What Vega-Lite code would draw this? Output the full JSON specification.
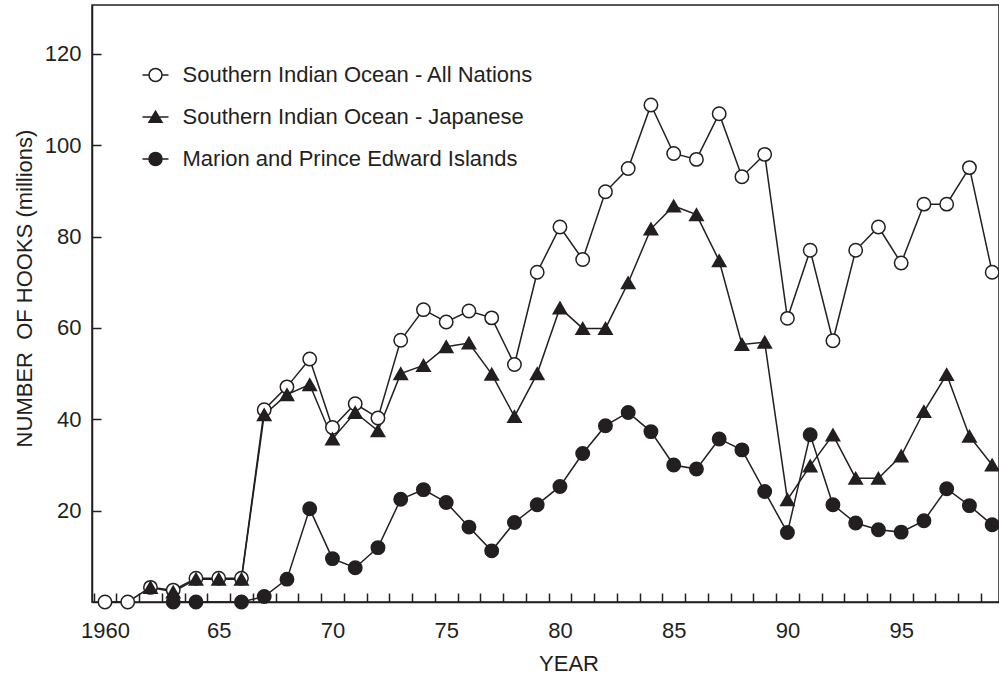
{
  "$schema": "https://vega.github.io/schema/vega-lite/v6.json",
  "width": 907,
  "height": 597,
  "autosize": {"type": "none"},
  "padding": {"left": 92, "top": 5, "right": 0, "bottom": 72},
  "background": "white",
  "config": {
    "view": {"stroke": "#231f20", "strokeWidth": 1.5},
    "font": "Liberation Sans",
    "axis": {
      "labelFont": "Liberation Sans", "labelFontSize": 22, "labelColor": "#231f20",
      "titleFont": "Liberation Sans", "titleFontSize": 22, "titleFontWeight": "normal", "titleColor": "#231f20",
      "tickColor": "#231f20", "tickWidth": 1.5, "domainColor": "#231f20", "domainWidth": 1.5,
      "grid": true, "gridColor": "#231f20", "gridWidth": 1.5, "gridOpacity": 1
    }
  },
  "datasets": {
    "hooks": [
      {"year": 1960, "series": "Southern Indian Ocean - All Nations", "hooks": 0},
      {"year": 1961, "series": "Southern Indian Ocean - All Nations", "hooks": 0},
      {"year": 1962, "series": "Southern Indian Ocean - All Nations", "hooks": 3.2},
      {"year": 1963, "series": "Southern Indian Ocean - All Nations", "hooks": 2.6},
      {"year": 1964, "series": "Southern Indian Ocean - All Nations", "hooks": 5.2},
      {"year": 1965, "series": "Southern Indian Ocean - All Nations", "hooks": 5.2},
      {"year": 1966, "series": "Southern Indian Ocean - All Nations", "hooks": 5.2},
      {"year": 1967, "series": "Southern Indian Ocean - All Nations", "hooks": 42.1},
      {"year": 1968, "series": "Southern Indian Ocean - All Nations", "hooks": 47.1},
      {"year": 1969, "series": "Southern Indian Ocean - All Nations", "hooks": 53.2},
      {"year": 1970, "series": "Southern Indian Ocean - All Nations", "hooks": 38.2},
      {"year": 1971, "series": "Southern Indian Ocean - All Nations", "hooks": 43.4},
      {"year": 1972, "series": "Southern Indian Ocean - All Nations", "hooks": 40.3},
      {"year": 1973, "series": "Southern Indian Ocean - All Nations", "hooks": 57.3},
      {"year": 1974, "series": "Southern Indian Ocean - All Nations", "hooks": 64.0},
      {"year": 1975, "series": "Southern Indian Ocean - All Nations", "hooks": 61.3},
      {"year": 1976, "series": "Southern Indian Ocean - All Nations", "hooks": 63.7},
      {"year": 1977, "series": "Southern Indian Ocean - All Nations", "hooks": 62.2},
      {"year": 1978, "series": "Southern Indian Ocean - All Nations", "hooks": 52.0},
      {"year": 1979, "series": "Southern Indian Ocean - All Nations", "hooks": 72.2},
      {"year": 1980, "series": "Southern Indian Ocean - All Nations", "hooks": 82.1},
      {"year": 1981, "series": "Southern Indian Ocean - All Nations", "hooks": 75.0},
      {"year": 1982, "series": "Southern Indian Ocean - All Nations", "hooks": 89.8},
      {"year": 1983, "series": "Southern Indian Ocean - All Nations", "hooks": 94.9},
      {"year": 1984, "series": "Southern Indian Ocean - All Nations", "hooks": 108.8},
      {"year": 1985, "series": "Southern Indian Ocean - All Nations", "hooks": 98.2},
      {"year": 1986, "series": "Southern Indian Ocean - All Nations", "hooks": 96.9},
      {"year": 1987, "series": "Southern Indian Ocean - All Nations", "hooks": 106.9},
      {"year": 1988, "series": "Southern Indian Ocean - All Nations", "hooks": 93.1},
      {"year": 1989, "series": "Southern Indian Ocean - All Nations", "hooks": 98.0},
      {"year": 1990, "series": "Southern Indian Ocean - All Nations", "hooks": 62.1},
      {"year": 1991, "series": "Southern Indian Ocean - All Nations", "hooks": 77.0},
      {"year": 1992, "series": "Southern Indian Ocean - All Nations", "hooks": 57.2},
      {"year": 1993, "series": "Southern Indian Ocean - All Nations", "hooks": 77.0},
      {"year": 1994, "series": "Southern Indian Ocean - All Nations", "hooks": 82.1},
      {"year": 1995, "series": "Southern Indian Ocean - All Nations", "hooks": 74.2},
      {"year": 1996, "series": "Southern Indian Ocean - All Nations", "hooks": 87.1},
      {"year": 1997, "series": "Southern Indian Ocean - All Nations", "hooks": 87.1},
      {"year": 1998, "series": "Southern Indian Ocean - All Nations", "hooks": 95.1},
      {"year": 1999, "series": "Southern Indian Ocean - All Nations", "hooks": 72.2},
      {"year": 1962, "series": "Southern Indian Ocean - Japanese", "hooks": 3.2},
      {"year": 1963, "series": "Southern Indian Ocean - Japanese", "hooks": 2.2},
      {"year": 1964, "series": "Southern Indian Ocean - Japanese", "hooks": 5.0},
      {"year": 1965, "series": "Southern Indian Ocean - Japanese", "hooks": 5.0},
      {"year": 1966, "series": "Southern Indian Ocean - Japanese", "hooks": 5.0},
      {"year": 1967, "series": "Southern Indian Ocean - Japanese", "hooks": 41.0},
      {"year": 1968, "series": "Southern Indian Ocean - Japanese", "hooks": 45.4},
      {"year": 1969, "series": "Southern Indian Ocean - Japanese", "hooks": 47.6},
      {"year": 1970, "series": "Southern Indian Ocean - Japanese", "hooks": 35.7},
      {"year": 1971, "series": "Southern Indian Ocean - Japanese", "hooks": 41.5},
      {"year": 1972, "series": "Southern Indian Ocean - Japanese", "hooks": 37.5},
      {"year": 1973, "series": "Southern Indian Ocean - Japanese", "hooks": 50.0},
      {"year": 1974, "series": "Southern Indian Ocean - Japanese", "hooks": 51.8},
      {"year": 1975, "series": "Southern Indian Ocean - Japanese", "hooks": 55.9},
      {"year": 1976, "series": "Southern Indian Ocean - Japanese", "hooks": 56.7},
      {"year": 1977, "series": "Southern Indian Ocean - Japanese", "hooks": 49.9},
      {"year": 1978, "series": "Southern Indian Ocean - Japanese", "hooks": 40.6},
      {"year": 1979, "series": "Southern Indian Ocean - Japanese", "hooks": 50.0},
      {"year": 1980, "series": "Southern Indian Ocean - Japanese", "hooks": 64.4},
      {"year": 1981, "series": "Southern Indian Ocean - Japanese", "hooks": 59.9},
      {"year": 1982, "series": "Southern Indian Ocean - Japanese", "hooks": 59.9},
      {"year": 1983, "series": "Southern Indian Ocean - Japanese", "hooks": 69.9},
      {"year": 1984, "series": "Southern Indian Ocean - Japanese", "hooks": 81.7},
      {"year": 1985, "series": "Southern Indian Ocean - Japanese", "hooks": 86.7},
      {"year": 1986, "series": "Southern Indian Ocean - Japanese", "hooks": 84.8},
      {"year": 1987, "series": "Southern Indian Ocean - Japanese", "hooks": 74.7},
      {"year": 1988, "series": "Southern Indian Ocean - Japanese", "hooks": 56.4},
      {"year": 1989, "series": "Southern Indian Ocean - Japanese", "hooks": 56.9},
      {"year": 1990, "series": "Southern Indian Ocean - Japanese", "hooks": 22.4},
      {"year": 1991, "series": "Southern Indian Ocean - Japanese", "hooks": 29.8},
      {"year": 1992, "series": "Southern Indian Ocean - Japanese", "hooks": 36.6},
      {"year": 1993, "series": "Southern Indian Ocean - Japanese", "hooks": 27.1},
      {"year": 1994, "series": "Southern Indian Ocean - Japanese", "hooks": 27.1},
      {"year": 1995, "series": "Southern Indian Ocean - Japanese", "hooks": 32.0},
      {"year": 1996, "series": "Southern Indian Ocean - Japanese", "hooks": 41.7},
      {"year": 1997, "series": "Southern Indian Ocean - Japanese", "hooks": 49.8},
      {"year": 1998, "series": "Southern Indian Ocean - Japanese", "hooks": 36.3},
      {"year": 1999, "series": "Southern Indian Ocean - Japanese", "hooks": 30.0},
      {"year": 1963, "series": "Marion and Prince Edward Islands", "hooks": 0},
      {"year": 1964, "series": "Marion and Prince Edward Islands", "hooks": 0},
      {"year": 1966, "series": "Marion and Prince Edward Islands", "hooks": 0},
      {"year": 1967, "series": "Marion and Prince Edward Islands", "hooks": 1.2},
      {"year": 1968, "series": "Marion and Prince Edward Islands", "hooks": 5.0},
      {"year": 1969, "series": "Marion and Prince Edward Islands", "hooks": 20.4},
      {"year": 1970, "series": "Marion and Prince Edward Islands", "hooks": 9.5},
      {"year": 1971, "series": "Marion and Prince Edward Islands", "hooks": 7.5},
      {"year": 1972, "series": "Marion and Prince Edward Islands", "hooks": 11.9},
      {"year": 1973, "series": "Marion and Prince Edward Islands", "hooks": 22.5},
      {"year": 1974, "series": "Marion and Prince Edward Islands", "hooks": 24.6},
      {"year": 1975, "series": "Marion and Prince Edward Islands", "hooks": 21.8},
      {"year": 1976, "series": "Marion and Prince Edward Islands", "hooks": 16.4},
      {"year": 1977, "series": "Marion and Prince Edward Islands", "hooks": 11.2},
      {"year": 1978, "series": "Marion and Prince Edward Islands", "hooks": 17.4},
      {"year": 1979, "series": "Marion and Prince Edward Islands", "hooks": 21.3},
      {"year": 1980, "series": "Marion and Prince Edward Islands", "hooks": 25.3},
      {"year": 1981, "series": "Marion and Prince Edward Islands", "hooks": 32.5},
      {"year": 1982, "series": "Marion and Prince Edward Islands", "hooks": 38.6},
      {"year": 1983, "series": "Marion and Prince Edward Islands", "hooks": 41.5},
      {"year": 1984, "series": "Marion and Prince Edward Islands", "hooks": 37.3},
      {"year": 1985, "series": "Marion and Prince Edward Islands", "hooks": 30.0},
      {"year": 1986, "series": "Marion and Prince Edward Islands", "hooks": 29.1},
      {"year": 1987, "series": "Marion and Prince Edward Islands", "hooks": 35.7},
      {"year": 1988, "series": "Marion and Prince Edward Islands", "hooks": 33.3},
      {"year": 1989, "series": "Marion and Prince Edward Islands", "hooks": 24.2},
      {"year": 1990, "series": "Marion and Prince Edward Islands", "hooks": 15.2},
      {"year": 1991, "series": "Marion and Prince Edward Islands", "hooks": 36.6},
      {"year": 1992, "series": "Marion and Prince Edward Islands", "hooks": 21.3},
      {"year": 1993, "series": "Marion and Prince Edward Islands", "hooks": 17.3},
      {"year": 1994, "series": "Marion and Prince Edward Islands", "hooks": 15.8},
      {"year": 1995, "series": "Marion and Prince Edward Islands", "hooks": 15.3},
      {"year": 1996, "series": "Marion and Prince Edward Islands", "hooks": 17.8},
      {"year": 1997, "series": "Marion and Prince Edward Islands", "hooks": 24.8},
      {"year": 1998, "series": "Marion and Prince Edward Islands", "hooks": 21.1},
      {"year": 1999, "series": "Marion and Prince Edward Islands", "hooks": 16.9}
    ]
  },
  "data": {"name": "hooks"},
  "encoding": {
    "x": {
      "field": "year", "type": "quantitative",
      "scale": {"domain": [1959.43, 1999.3], "nice": false, "zero": false},
      "axis": {
        "orient": "bottom",
        "values": [1959.5, 1960.5, 1961.5, 1962.5, 1963.5, 1964.5, 1965.5, 1966.5, 1967.5, 1968.5, 1969.5, 1970.5, 1971.5, 1972.5, 1973.5, 1974.5, 1975.5, 1976.5, 1977.5, 1978.5, 1979.5, 1980.5, 1981.5, 1982.5, 1983.5, 1984.5, 1985.5, 1986.5, 1987.5, 1988.5, 1989.5, 1990.5, 1991.5, 1992.5, 1993.5, 1994.5, 1995.5, 1996.5, 1997.5, 1998.5],
        "labelExpr": "(datum.value + 0.5) % 5 == 0 ? ((datum.value + 0.5) == 1960 ? '1960' : substring(toString(datum.value + 0.5), 2)) : ''",
        "labelOffset": 11.37, "labelPadding": 18, "labelFlush": false, "labelOverlap": false, "labelBound": false,
        "ticks": false, "domain": true,
        "gridDash": [0, 588, 9, 3000],
        "title": "YEAR", "titleX": 476.5, "titleY": 68, "titleBaseline": "alphabetic", "titleAlign": "center"
      }
    },
    "y": {
      "field": "hooks", "type": "quantitative",
      "scale": {"domain": [0, 130.7], "nice": false},
      "axis": {
        "orient": "left",
        "values": [20, 40, 60, 80, 100, 120],
        "ticks": false, "labelPadding": 11, "labelOverlap": false, "domain": true,
        "gridDash": [9, 3000],
        "title": "NUMBER\u00a0 OF HOOKS (millions)", "titleX": -68, "titleY": 283, "titleAngle": -90, "titleAlign": "center", "titleBaseline": "middle"
      }
    }
  },
  "layer": [
    {
      "mark": {"type": "point", "filled": true, "size": 169, "strokeWidth": 1.5, "opacity": 0, "clip": false},
      "encoding": {
        "shape": {
          "field": "series", "type": "nominal",
          "scale": {"domain": ["Southern Indian Ocean - All Nations", "Southern Indian Ocean - Japanese", "Marion and Prince Edward Islands"], "range": ["M-2,0L-1,0M1,0L2,0M1,0A1,1,0,1,1,-1,0A1,1,0,1,1,1,0Z", "M-2,0L2,0M0,-0.9L1,0.8L-1,0.8Z", "M-2,0L2,0M1,0A1,1,0,1,1,-1,0A1,1,0,1,1,1,0Z"]},
          "legend": {
            "orient": "none", "legendX": 52.5, "legendY": 59, "title": null, "padding": 0,
            "labelFont": "Liberation Sans", "labelFontSize": 22, "labelColor": "#231f20", "labelOffset": 16, "labelLimit": 0,
            "rowPadding": 20, "symbolSize": 169, "symbolStrokeWidth": 1.5, "symbolOpacity": 1
          }
        },
        "fill": {
          "field": "series", "type": "nominal",
          "scale": {"domain": ["Southern Indian Ocean - All Nations", "Southern Indian Ocean - Japanese", "Marion and Prince Edward Islands"], "range": ["white", "#231f20", "#231f20"]},
          "legend": {
            "orient": "none", "legendX": 52.5, "legendY": 59, "title": null, "padding": 0,
            "labelFont": "Liberation Sans", "labelFontSize": 22, "labelColor": "#231f20", "labelOffset": 16, "labelLimit": 0,
            "rowPadding": 20, "symbolSize": 169, "symbolStrokeWidth": 1.5, "symbolOpacity": 1
          }
        },
        "stroke": {
          "field": "series", "type": "nominal",
          "scale": {"domain": ["Southern Indian Ocean - All Nations", "Southern Indian Ocean - Japanese", "Marion and Prince Edward Islands"], "range": ["#231f20", "#231f20", "#231f20"]},
          "legend": {
            "orient": "none", "legendX": 52.5, "legendY": 59, "title": null, "padding": 0,
            "labelFont": "Liberation Sans", "labelFontSize": 22, "labelColor": "#231f20", "labelOffset": 16, "labelLimit": 0,
            "rowPadding": 20, "symbolSize": 169, "symbolStrokeWidth": 1.5, "symbolOpacity": 1
          }
        }
      }
    },
    {
      "mark": {"type": "line", "stroke": "#231f20", "strokeWidth": 1.5, "clip": false},
      "encoding": {
        "detail": {"field": "series", "type": "nominal"}
      }
    },
    {
      "mark": {"type": "point", "filled": true, "size": 180, "stroke": "#231f20", "strokeWidth": 1.5, "opacity": 1, "clip": false},
      "encoding": {
        "shape": {
          "field": "series", "type": "nominal",
          "scale": {"domain": ["Southern Indian Ocean - All Nations", "Southern Indian Ocean - Japanese", "Marion and Prince Edward Islands"], "range": ["circle", "triangle-up", "circle"]},
          "legend": null
        },
        "fill": {
          "field": "series", "type": "nominal",
          "scale": {"domain": ["Southern Indian Ocean - All Nations", "Southern Indian Ocean - Japanese", "Marion and Prince Edward Islands"], "range": ["white", "#231f20", "#231f20"]},
          "legend": null
        }
      }
    }
  ],
  "resolve": {"scale": {"shape": "independent", "fill": "independent", "stroke": "independent"}}
}
